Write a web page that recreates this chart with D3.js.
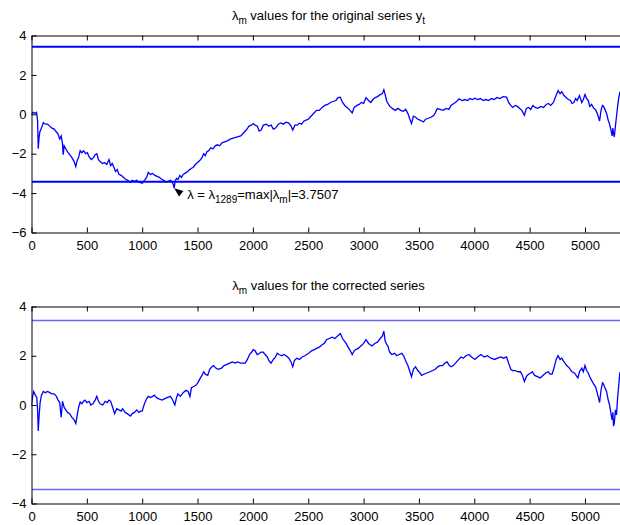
<!DOCTYPE html>
<html>
<head>
<meta charset="utf-8">
<script src="https://cdn.jsdelivr.net/npm/d3@7"></script>
<style>
    body { margin: 0; background: #fff; }
    text { font-family: "Liberation Sans", Arial, sans-serif; }
</style>
</head>
<body>
<div id="chart"></div>
<script>
// tick values
const xTicks = [0, 500, 1000, 1500, 2000, 2500, 3000, 3500, 4000, 4500, 5000]
const topYTicks = [-6, -4, -2, 0, 2, 4]
const botYTicks = [-4, -2, 0, 2, 4]

// critical value (horizontal lines) and the annotated minimum
const critical = 3.43
const maxIdx = 1289
const maxVal = -3.7507

// lambda_m for the original series y_t  [m, value]
const origSeries = [
    [0,0],[15,0.1],[30,0.05],[45,0.1],[55,-0.3],[61,-1.75],[68,-1.2],[75,-0.9],[90,-0.7],[107,-0.42],
    [125,-0.5],[145,-0.5],[165,-0.6],[185,-0.7],[205,-0.75],[225,-0.9],[240,-1.0],[255,-1.25],[268,-1.1],[280,-1.5],
    [286,-2.05],[295,-1.6],[310,-1.75],[325,-1.9],[345,-2.05],[365,-2.2],[385,-2.4],[400,-2.65],[412,-2.35],[425,-2.2],
    [440,-1.85],[455,-1.95],[470,-1.85],[490,-2.0],[505,-1.95],[520,-2.15],[540,-2.3],[560,-2.2],[575,-2.05],[590,-2.0],
    [605,-2.3],[620,-2.4],[640,-2.5],[660,-2.45],[680,-2.55],[700,-2.3],[715,-2.6],[730,-2.5],[745,-2.7],[760,-2.9],
    [775,-2.8],[790,-3.05],[810,-3.1],[830,-3.2],[850,-3.3],[870,-3.35],[894,-3.45],[910,-3.35],[930,-3.4],[950,-3.35],
    [970,-3.45],[1001,-3.5],[1020,-3.35],[1040,-3.2],[1055,-2.95],[1075,-3.05],[1095,-3.0],[1115,-3.1],[1135,-3.15],[1155,-3.2],
    [1175,-3.3],[1195,-3.35],[1215,-3.45],[1235,-3.4],[1255,-3.35],[1270,-3.45],[1280,-3.55],[1289,-3.75],[1298,-3.4],[1310,-3.25],
    [1325,-3.3],[1340,-3.1],[1355,-3.2],[1370,-3.05],[1385,-3.0],[1400,-2.95],[1420,-2.85],[1440,-2.75],[1460,-2.7],[1480,-2.55],
    [1500,-2.45],[1520,-2.35],[1540,-2.2],[1556,-2.0],[1570,-2.1],[1585,-1.9],[1600,-1.85],[1620,-1.7],[1640,-1.75],[1660,-1.6],
    [1680,-1.55],[1700,-1.6],[1720,-1.45],[1745,-1.4],[1770,-1.35],[1800,-1.25],[1830,-1.2],[1860,-1.15],[1890,-1.1],[1915,-0.95],
    [1940,-0.8],[1965,-0.6],[1985,-0.55],[2003,-0.47],[2020,-0.55],[2040,-0.6],[2057,-0.85],[2075,-0.8],[2095,-0.55],[2120,-0.5],
    [2145,-0.6],[2165,-0.55],[2185,-0.75],[2205,-0.7],[2230,-0.5],[2253,-0.44],[2275,-0.5],[2300,-0.4],[2325,-0.45],[2345,-0.6],
    [2360,-0.8],[2380,-0.55],[2400,-0.55],[2420,-0.45],[2440,-0.5],[2460,-0.35],[2480,-0.3],[2500,-0.25],[2525,-0.1],[2550,0.05],
    [2575,0.2],[2600,0.2],[2625,0.35],[2650,0.45],[2675,0.5],[2700,0.6],[2725,0.65],[2750,0.7],[2770,0.85],[2790,0.87],
    [2810,0.6],[2830,0.45],[2850,0.35],[2870,0.25],[2897,0.07],[2915,0.35],[2940,0.45],[2960,0.5],[2980,0.6],[3000,0.55],
    [3022,0.84],[3045,0.7],[3065,0.6],[3085,0.75],[3105,0.85],[3125,0.9],[3150,1.0],[3170,1.05],[3183,1.24],[3195,1.0],
    [3210,0.65],[3237,0.4],[3260,0.3],[3285,0.2],[3310,0.3],[3335,0.2],[3360,0.15],[3380,0.25],[3400,0.05],[3415,-0.2],
    [3433,-0.47],[3450,-0.1],[3470,-0.15],[3490,-0.25],[3510,-0.3],[3541,-0.39],[3560,-0.25],[3585,-0.2],[3610,-0.15],[3635,-0.05],
    [3650,0.1],[3666,0.29],[3690,0.25],[3720,0.2],[3745,0.3],[3770,0.25],[3790,0.45],[3815,0.55],[3840,0.65],[3863,0.79],
    [3890,0.7],[3915,0.75],[3940,0.7],[3960,0.8],[3985,0.75],[4006,0.82],[4030,0.75],[4055,0.8],[4080,0.7],[4105,0.75],
    [4130,0.7],[4155,0.8],[4180,0.75],[4205,0.85],[4230,0.8],[4260,0.9],[4292,0.87],[4310,0.6],[4330,0.45],[4346,0.35],
    [4370,0.45],[4390,0.4],[4410,0.3],[4430,0.2],[4453,-0.05],[4470,0.3],[4490,0.35],[4510,0.25],[4530,0.45],[4550,0.35],
    [4575,0.3],[4600,0.4],[4625,0.35],[4650,0.5],[4670,0.55],[4690,0.45],[4715,0.6],[4735,0.9],[4757,1.2],[4775,1.05],
    [4790,1.15],[4811,0.95],[4830,0.85],[4850,0.75],[4870,0.7],[4882,0.55],[4900,0.6],[4915,0.8],[4930,0.7],[4950,0.95],
    [4971,0.6],[4985,0.75],[5000,1.0],[5015,0.8],[5030,0.7],[5043,0.4],[5060,0.5],[5079,0.3],[5095,0.25],[5110,0.05],
    [5122,-0.15],[5132,-0.34],[5145,0.2],[5158,0.45],[5168,0.4],[5180,0.25],[5195,0.05],[5210,-0.3],[5222,-0.5],[5235,-0.8],
    [5245,-1.1],[5252,-0.7],[5258,-1.0],[5265,-1.15],[5275,-0.6],[5285,-0.1],[5295,0.4],[5305,0.85],[5315,1.1],[5322,1.05]
]

// lambda_m for the corrected series  [m, value]
const corrSeries = [
    [0,0],[10,0.35],[20,0.55],[35,0.4],[48,0.3],[55,-0.2],[61,-1.05],[68,-0.5],[78,0.1],[90,0.4],
    [107,0.55],[125,0.5],[145,0.55],[165,0.5],[185,0.45],[205,0.45],[225,0.35],[240,0.2],[255,0.1],[268,-0.5],
    [280,0.15],[295,-0.1],[310,-0.2],[325,-0.3],[345,-0.35],[365,-0.5],[385,-0.6],[400,-0.75],[412,-0.45],[425,-0.1],
    [440,0.12],[455,0.05],[470,0.15],[483,0.2],[500,0.1],[520,0.15],[536,0.0],[555,0.05],[575,0.2],[590,0.35],
    [605,0.15],[620,0.05],[644,0.0],[665,0.15],[685,0.1],[700,0.2],[715,0.15],[730,-0.05],[751,-0.35],[770,-0.15],
    [790,-0.2],[810,-0.25],[823,-0.15],[845,-0.3],[865,-0.35],[894,-0.45],[910,-0.35],[930,-0.3],[950,-0.2],[970,-0.3],
    [984,-0.25],[1000,-0.25],[1020,0.05],[1040,0.25],[1055,0.35],[1075,0.3],[1095,0.35],[1109,0.4],[1130,0.3],[1150,0.25],
    [1180,0.2],[1200,0.25],[1225,0.3],[1252,0.35],[1270,0.25],[1285,0.1],[1295,0.0],[1310,0.3],[1323,0.45],[1345,0.35],
    [1370,0.5],[1395,0.6],[1415,0.55],[1431,0.35],[1445,0.7],[1465,0.75],[1485,0.8],[1502,0.9],[1520,1.05],[1540,1.2],
    [1556,1.35],[1570,1.25],[1592,1.2],[1610,1.45],[1630,1.55],[1645,1.6],[1665,1.5],[1685,1.45],[1717,1.5],[1740,1.6],
    [1765,1.65],[1790,1.7],[1815,1.75],[1840,1.7],[1860,1.75],[1890,1.7],[1931,1.7],[1950,1.85],[1970,2.05],[1990,2.15],
    [2003,2.25],[2020,2.2],[2039,2.05],[2060,2.1],[2075,2.15],[2093,2.15],[2110,2.05],[2130,1.95],[2145,1.8],[2164,1.7],
    [2185,1.85],[2205,1.95],[2220,2.1],[2236,2.05],[2260,2.0],[2280,2.05],[2300,2.0],[2325,1.9],[2345,1.75],[2360,1.55],
    [2375,1.8],[2396,1.9],[2420,1.85],[2445,1.95],[2470,2.0],[2503,2.1],[2530,2.2],[2555,2.25],[2575,2.3],[2600,2.35],
    [2625,2.45],[2645,2.5],[2665,2.65],[2690,2.7],[2715,2.75],[2740,2.7],[2765,2.8],[2790,2.9],[2810,2.7],[2825,2.6],
    [2843,2.5],[2860,2.35],[2880,2.2],[2897,2.05],[2915,2.2],[2930,2.25],[2951,2.3],[2975,2.4],[3000,2.5],[3022,2.65],
    [3045,2.5],[3060,2.45],[3076,2.4],[3100,2.5],[3125,2.55],[3150,2.7],[3170,2.8],[3183,3.0],[3195,2.6],[3210,2.45],
    [3219,2.4],[3235,2.15],[3255,2.05],[3280,2.1],[3300,2.0],[3320,2.05],[3345,2.1],[3362,2.0],[3380,1.8],[3400,1.6],
    [3415,1.4],[3433,1.15],[3450,1.45],[3469,1.55],[3490,1.4],[3510,1.3],[3523,1.2],[3545,1.25],[3570,1.3],[3600,1.35],
    [3625,1.4],[3648,1.45],[3670,1.55],[3690,1.6],[3715,1.6],[3735,1.7],[3755,1.75],[3775,1.6],[3791,1.55],[3810,1.6],
    [3830,1.7],[3850,1.8],[3880,1.95],[3900,1.9],[3925,2.0],[3952,2.05],[3975,1.95],[4006,1.85],[4030,1.95],[4060,2.05],
    [4090,1.95],[4120,2.0],[4150,1.9],[4185,1.85],[4210,1.9],[4240,1.95],[4265,1.9],[4292,1.95],[4310,1.7],[4330,1.45],
    [4346,1.4],[4370,1.4],[4395,1.35],[4417,1.35],[4435,1.2],[4453,0.95],[4470,1.15],[4490,1.25],[4510,1.3],[4524,1.35],
    [4545,1.2],[4570,1.15],[4596,1.1],[4620,1.2],[4645,1.3],[4668,1.35],[4685,1.25],[4703,1.25],[4720,1.5],[4740,1.85],
    [4757,2.0],[4775,1.85],[4790,1.9],[4811,1.75],[4835,1.6],[4860,1.5],[4882,1.35],[4905,1.3],[4920,1.2],[4936,1.1],
    [4950,1.35],[4971,1.5],[4985,1.35],[5000,1.6],[5015,1.4],[5030,1.3],[5043,1.15],[5060,1.0],[5079,0.85],[5095,0.75],
    [5110,0.5],[5122,0.3],[5132,0.1],[5145,0.6],[5158,0.9],[5168,0.85],[5180,0.7],[5195,0.55],[5210,0.2],[5222,0.0],
    [5235,-0.35],[5245,-0.6],[5252,-0.3],[5258,-0.85],[5265,-0.75],[5275,-0.2],[5285,-0.4],[5295,0.3],[5305,0.8],[5315,1.3],
    [5322,1.3]
]

const W = 620, H = 525
const blue = '#0000ff'

const svg = d3.select('#chart').append('svg')
    .attr('width', W)
    .attr('height', H)

const x = d3.scaleLinear().domain([0, 5330]).range([31.5, 621.5])

const fmt = d => (d < 0 ? '\u2212' + Math.abs(d) : '' + d)

const drawPanel = (cfg) => {
    const y = d3.scaleLinear().domain(cfg.yDomain).range([cfg.bottom, cfg.top])
    const g = svg.append('g')

    g.append('clipPath').attr('id', cfg.id)
        .append('rect')
        .attr('x', x.range()[0]).attr('y', cfg.top)
        .attr('width', x.range()[1] - x.range()[0]).attr('height', cfg.bottom - cfg.top)

    // critical value lines
    g.selectAll('line.crit').data([critical, -critical])
        .enter().append('line')
        .attr('class', 'crit')
        .attr('x1', x.range()[0] + 0.5).attr('x2', x.range()[1])
        .attr('y1', d => y(d)).attr('y2', d => y(d))
        .attr('stroke', blue)
        .attr('stroke-opacity', cfg.critOpacity)
        .attr('stroke-width', cfg.critWidth)

    const line = d3.line().x(d => x(d[0])).y(d => y(d[1]))
    g.append('path')
        .datum(cfg.data)
        .attr('clip-path', `url(#${cfg.id})`)
        .attr('d', line)
        .attr('fill', 'none')
        .attr('stroke', blue)
        .attr('stroke-width', 1.3)
        .attr('stroke-linejoin', 'miter')

    // axes
    const xb = g.append('g').attr('transform', `translate(0,${cfg.bottom})`)
        .call(d3.axisBottom(x).tickValues(xTicks).tickFormat(fmt).tickSizeInner(-5).tickSizeOuter(0).tickPadding(8))
    const xt = g.append('g').attr('transform', `translate(0,${cfg.top})`)
        .call(d3.axisTop(x).tickValues(xTicks).tickFormat('').tickSizeInner(-5).tickSizeOuter(0))
    const yl = g.append('g').attr('transform', `translate(${x.range()[0]},0)`)
        .call(d3.axisLeft(y).tickValues(cfg.yTicks).tickFormat(fmt).tickSizeInner(-5).tickSizeOuter(0).tickPadding(5))

    ;[xb, xt, yl].forEach(a => {
        a.select('.domain').attr('stroke', '#000').attr('stroke-width', 1)
        a.selectAll('.tick line').attr('stroke', '#000')
        a.selectAll('text').attr('font-size', 13).attr('fill', '#000')
            .attr('font-family', '"Liberation Sans", Arial, sans-serif')
    })

    // title
    const t = g.append('text')
        .attr('x', (x.range()[0] + x.range()[1]) / 2 + 2)
        .attr('y', cfg.titleY)
        .attr('text-anchor', 'middle')
        .attr('font-size', 13)
    cfg.title.forEach(p => {
        t.append('tspan')
            .attr('dy', p.dy || 0)
            .attr('font-size', p.sub ? 10 : 13)
            .text(p.text)
    })
    return y
}

const yTop = drawPanel({
    id: 'clipTop', top: 35.5, bottom: 232.5, yDomain: [-6, 4], yTicks: topYTicks,
    data: origSeries, critWidth: 2, critOpacity: 1, titleY: 20,
    title: [{ text: '\u03bb' }, { text: 'm', sub: true, dy: 4 },
            { text: ' values for the original series y', dy: -4 }, { text: 't', sub: true, dy: 4 }]
})

drawPanel({
    id: 'clipBot', top: 306.5, bottom: 503.5, yDomain: [-4, 4], yTicks: botYTicks,
    data: corrSeries, critWidth: 1.6, critOpacity: 0.6, titleY: 290,
    title: [{ text: '\u03bb' }, { text: 'm', sub: true, dy: 4 },
            { text: ' values for the corrected series', dy: -4 }]
})

// annotation of the maximum |lambda_m|
const px = x(maxIdx), py = yTop(maxVal)
const ang = Math.atan2(8, 10)
const hl = 9, hw = 3.5
const bx = px + hl * Math.cos(ang), by = py + hl * Math.sin(ang)
svg.append('path')
    .attr('d', `M${px},${py}L${bx - hw * Math.sin(ang)},${by + hw * Math.cos(ang)}L${bx + hw * Math.sin(ang)},${by - hw * Math.cos(ang)}Z`)
    .attr('fill', '#000')

const ann = svg.append('text')
    .attr('x', px + 13)
    .attr('y', py + 11)
    .attr('font-size', 13)
const annParts = [
    { text: '\u03bb = \u03bb' }, { text: '1289', sub: true, dy: 4 },
    { text: '=max|\u03bb', dy: -4 }, { text: 'm', sub: true, dy: 4 },
    { text: '|=3.7507', dy: -4 }
]
annParts.forEach(p => {
    ann.append('tspan')
        .attr('dy', p.dy || 0)
        .attr('font-size', p.sub ? 10 : 13)
        .text(p.text)
})
</script>
</body>
</html>
